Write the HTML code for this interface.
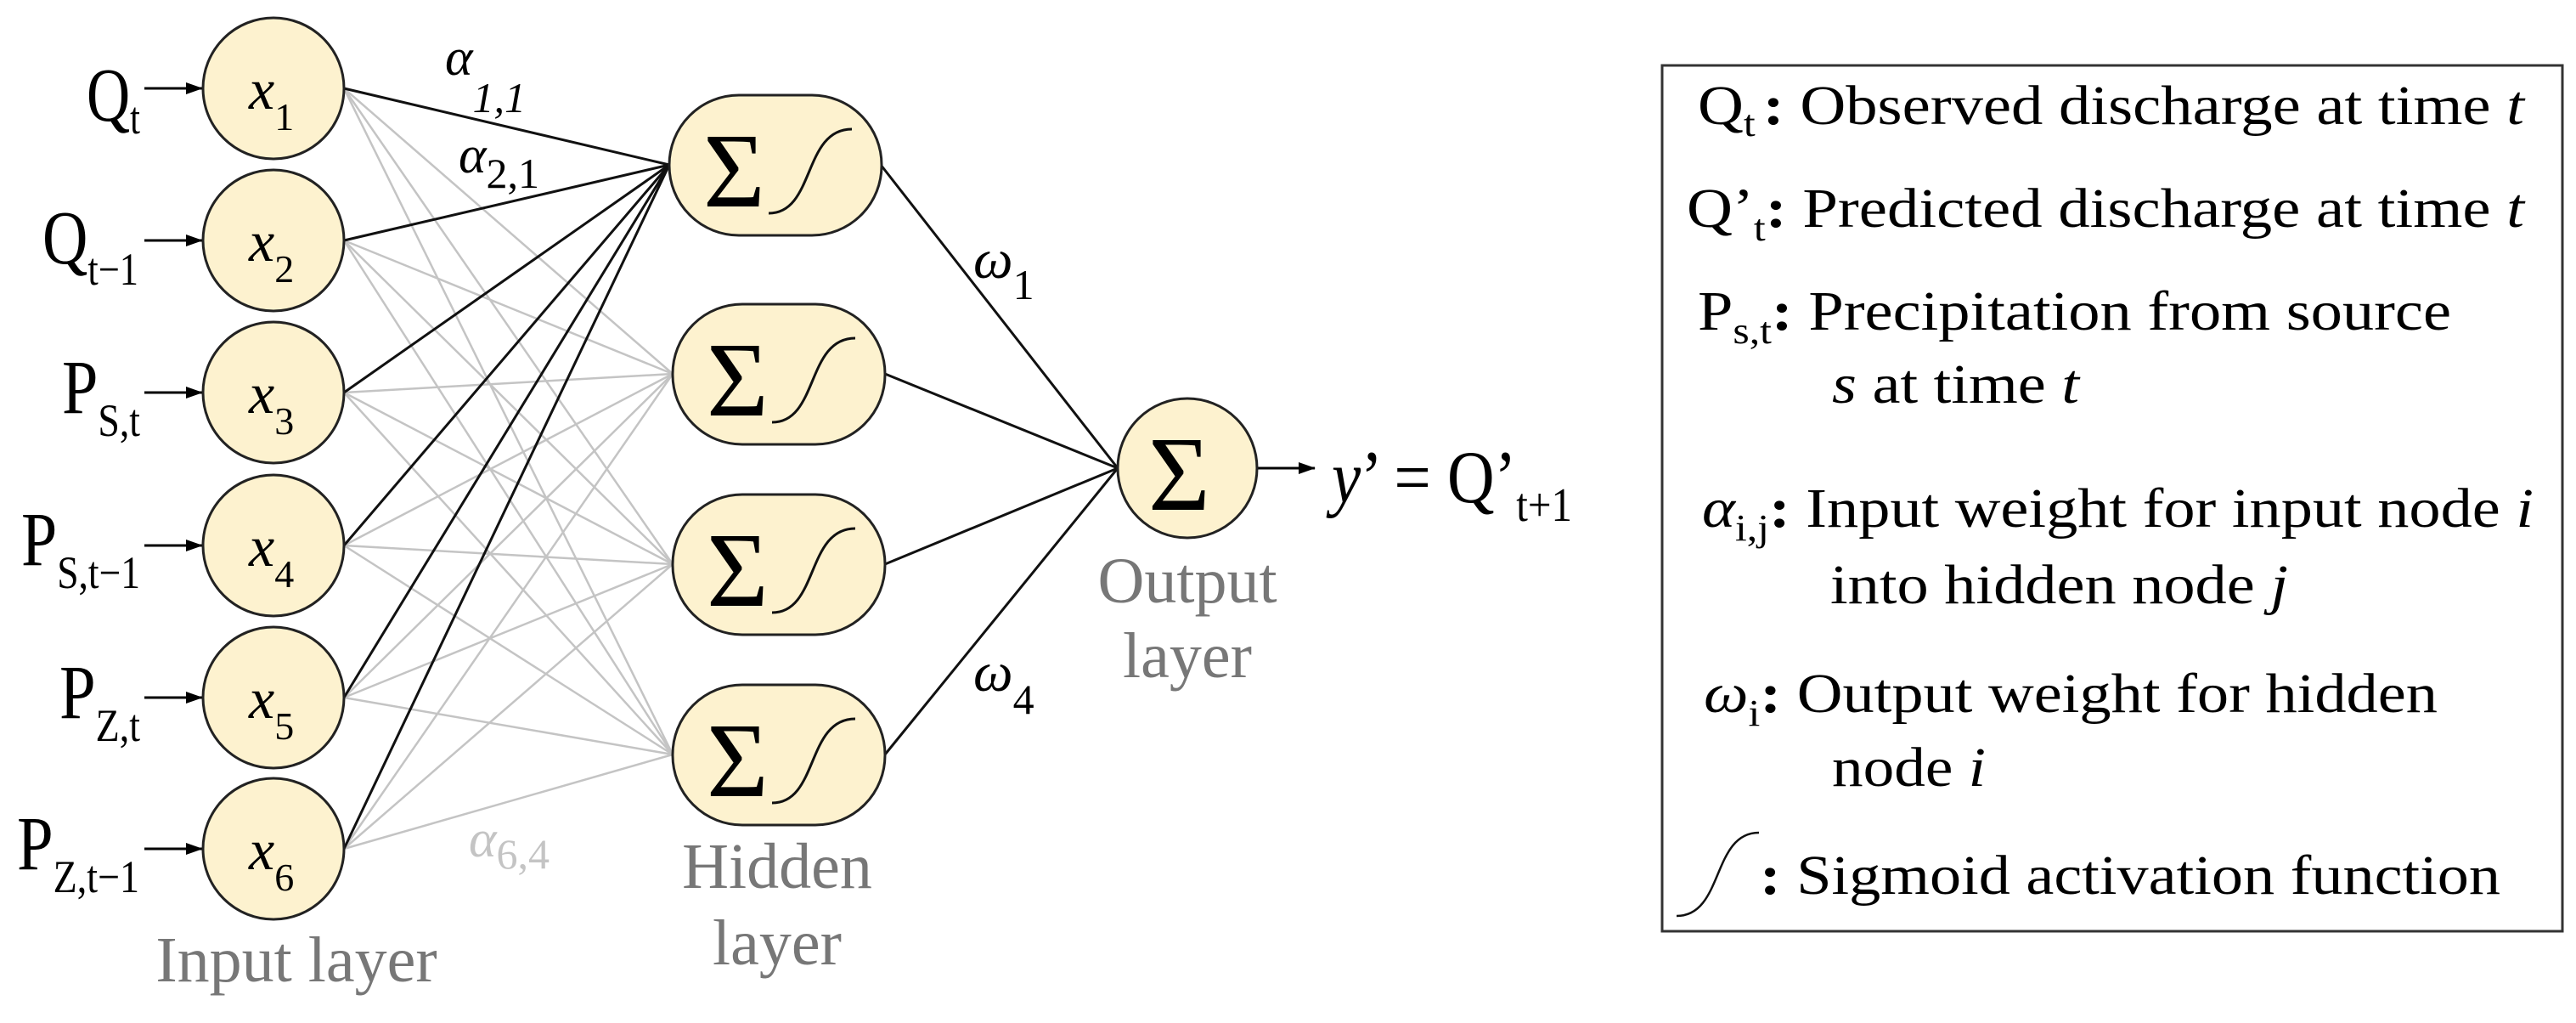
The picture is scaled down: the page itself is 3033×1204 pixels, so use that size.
<!DOCTYPE html>
<html><head><meta charset="utf-8"><style>
html,body{margin:0;padding:0;background:#fff;}
svg{display:block;}
text{font-family:"Liberation Serif","DejaVu Serif",serif;}
</style></head><body>
<svg width="3033" height="1204" viewBox="0 0 3033 1204" xmlns="http://www.w3.org/2000/svg">
<defs>
<marker id="ah2" markerWidth="20" markerHeight="14" refX="19" refY="7" orient="auto" markerUnits="userSpaceOnUse" viewBox="0 0 20 14">
<path d="M0,0 L20,7 L0,14 z" fill="#000"/></marker>
</defs>

<g stroke="#c4c4c4" stroke-width="2.5">
<line x1="405" y1="104" x2="792" y2="440"/><line x1="405" y1="104" x2="792" y2="664"/><line x1="405" y1="104" x2="792" y2="888"/>
<line x1="405" y1="283" x2="792" y2="440"/><line x1="405" y1="283" x2="792" y2="664"/><line x1="405" y1="283" x2="792" y2="888"/>
<line x1="405" y1="462" x2="792" y2="440"/><line x1="405" y1="462" x2="792" y2="664"/><line x1="405" y1="462" x2="792" y2="888"/>
<line x1="405" y1="642" x2="792" y2="440"/><line x1="405" y1="642" x2="792" y2="664"/><line x1="405" y1="642" x2="792" y2="888"/>
<line x1="405" y1="821" x2="792" y2="440"/><line x1="405" y1="821" x2="792" y2="664"/><line x1="405" y1="821" x2="792" y2="888"/>
<line x1="405" y1="999" x2="792" y2="440"/><line x1="405" y1="999" x2="792" y2="664"/><line x1="405" y1="999" x2="792" y2="888"/>
</g>
<g stroke="#111" stroke-width="3">
<line x1="405" y1="104" x2="788" y2="194"/><line x1="405" y1="283" x2="788" y2="194"/>
<line x1="405" y1="462" x2="788" y2="194"/><line x1="405" y1="642" x2="788" y2="194"/>
<line x1="405" y1="821" x2="788" y2="194"/><line x1="405" y1="999" x2="788" y2="194"/>
<line x1="1037" y1="194" x2="1316" y2="551"/><line x1="1042" y1="440" x2="1316" y2="551"/>
<line x1="1042" y1="664" x2="1316" y2="551"/><line x1="1042" y1="888" x2="1316" y2="551"/>
</g>

<g stroke="#000" stroke-width="3" marker-end="url(#ah2)">
<line x1="170" y1="104" x2="238" y2="104"/><line x1="170" y1="283" x2="238" y2="283"/>
<line x1="170" y1="462" x2="238" y2="462"/><line x1="170" y1="642" x2="238" y2="642"/>
<line x1="170" y1="821" x2="238" y2="821"/><line x1="170" y1="999" x2="238" y2="999"/>
<line x1="1481" y1="551" x2="1548" y2="551"/>
</g>

<g fill="#fdf2cf" stroke="#222" stroke-width="3">
<ellipse cx="322" cy="104" rx="83" ry="83"/><ellipse cx="322" cy="283" rx="83" ry="83"/>
<ellipse cx="322" cy="462" rx="83" ry="83"/><ellipse cx="322" cy="642" rx="83" ry="83"/>
<ellipse cx="322" cy="821" rx="83" ry="83"/><ellipse cx="322" cy="999" rx="83" ry="83"/>
<rect x="788" y="112" width="250" height="165" rx="82" ry="82"/>
<rect x="792" y="358" width="250" height="165" rx="82" ry="82"/>
<rect x="792" y="582" width="250" height="165" rx="82" ry="82"/>
<rect x="792" y="806" width="250" height="165" rx="82" ry="82"/>
<ellipse cx="1398" cy="551" rx="82" ry="82"/>
</g>

<g font-size="68" font-style="italic">
<text x="293" y="128">x<tspan font-style="normal" font-size="46" dy="25">1</tspan></text>
<text x="293" y="307">x<tspan font-style="normal" font-size="46" dy="25">2</tspan></text>
<text x="293" y="486">x<tspan font-style="normal" font-size="46" dy="25">3</tspan></text>
<text x="293" y="666">x<tspan font-style="normal" font-size="46" dy="25">4</tspan></text>
<text x="293" y="845">x<tspan font-style="normal" font-size="46" dy="25">5</tspan></text>
<text x="293" y="1023">x<tspan font-style="normal" font-size="46" dy="25">6</tspan></text>
</g>

<g font-size="125">
<text x="828" y="243">Σ</text><text x="832" y="489">Σ</text><text x="832" y="713">Σ</text><text x="832" y="937">Σ</text>
<text x="1352" y="600">Σ</text>
</g>
<g fill="none" stroke="#111" stroke-width="3">
<path d="M905,251 C960,251 945,152 1003,152"/>
<path d="M909,497 C964,497 949,398 1007,398"/>
<path d="M909,721 C964,721 949,622 1007,622"/>
<path d="M909,945 C964,945 949,846 1007,846"/>
</g>

<g font-size="90">
<text x="102" y="142" textLength="63" lengthAdjust="spacingAndGlyphs">Q<tspan font-size="54" dy="15">t</tspan></text>
<text x="50" y="310" textLength="113" lengthAdjust="spacingAndGlyphs">Q<tspan font-size="54" dy="25">t−1</tspan></text>
<text x="73" y="486" textLength="92" lengthAdjust="spacingAndGlyphs">P<tspan font-size="54" dy="27">S,t</tspan></text>
<text x="25" y="665" textLength="140" lengthAdjust="spacingAndGlyphs">P<tspan font-size="54" dy="27">S,t−1</tspan></text>
<text x="70" y="845" textLength="95" lengthAdjust="spacingAndGlyphs">P<tspan font-size="54" dy="27">Z,t</tspan></text>
<text x="20" y="1023" textLength="144" lengthAdjust="spacingAndGlyphs">P<tspan font-size="54" dy="27">Z,t−1</tspan></text>
</g>

<text x="524" y="88" font-size="62" font-style="italic">α<tspan font-size="50" dy="44">1,1</tspan></text>
<text x="540" y="203" font-size="62" font-style="italic">α<tspan font-style="normal" font-size="50" dy="18">2,1</tspan></text>
<text x="552" y="1008" font-size="62" font-style="italic" fill="#c4c4c4">α<tspan font-style="normal" font-size="50" dy="14">6,4</tspan></text>
<text x="1146" y="327" font-size="66" font-style="italic">ω<tspan font-style="normal" font-size="50" dy="25">1</tspan></text>
<text x="1146" y="813" font-size="66" font-style="italic">ω<tspan font-style="normal" font-size="50" dy="27">4</tspan></text>

<text x="1568" y="591" font-size="88" textLength="283" lengthAdjust="spacingAndGlyphs"><tspan font-style="italic">y</tspan>’ = Q’<tspan font-size="56" dy="22">t+1</tspan></text>

<g font-size="76" fill="#777" text-anchor="middle">
<text x="349" y="1155">Input layer</text>
<text x="915" y="1045">Hidden</text><text x="915" y="1135">layer</text>
<text x="1398" y="709">Output</text><text x="1398" y="797">layer</text>
</g>

<rect x="1957" y="77" width="1060" height="1019" fill="none" stroke="#333" stroke-width="3"/>
<g font-size="66">
<text x="1999" y="146" textLength="973" lengthAdjust="spacingAndGlyphs">Q<tspan font-size="44" dy="14">t</tspan><tspan dy="-14" dx="8" font-weight="bold">:</tspan> Observed discharge at time <tspan font-style="italic">t</tspan></text>
<text x="1986" y="267" textLength="986" lengthAdjust="spacingAndGlyphs">Q’<tspan font-size="44" dy="16">t</tspan><tspan dy="-16" font-weight="bold">:</tspan> Predicted discharge at time <tspan font-style="italic">t</tspan></text>
<text x="1999" y="388" textLength="887" lengthAdjust="spacingAndGlyphs">P<tspan font-size="44" dy="16">s,t</tspan><tspan dy="-16" font-weight="bold">:</tspan> Precipitation from source</text>
<text x="2157" y="474" textLength="291" lengthAdjust="spacingAndGlyphs"><tspan font-style="italic">s</tspan> at time <tspan font-style="italic">t</tspan></text>
<text x="2004" y="620" textLength="979" lengthAdjust="spacingAndGlyphs"><tspan font-style="italic">α</tspan><tspan font-size="44" dy="16">i,j</tspan><tspan dy="-16" font-weight="bold">:</tspan> Input weight for input node <tspan font-style="italic">i</tspan></text>
<text x="2155" y="710" textLength="539" lengthAdjust="spacingAndGlyphs">into hidden node <tspan font-style="italic">j</tspan></text>
<text x="2006" y="838" textLength="864" lengthAdjust="spacingAndGlyphs"><tspan font-style="italic">ω</tspan><tspan font-size="44" dy="16">i</tspan><tspan dy="-16" font-weight="bold">:</tspan> Output weight for hidden</text>
<text x="2157" y="925" textLength="181" lengthAdjust="spacingAndGlyphs">node <tspan font-style="italic">i</tspan></text>
<text x="2072" y="1052" textLength="872" lengthAdjust="spacingAndGlyphs"><tspan font-weight="bold">:</tspan> Sigmoid activation function</text>
</g>
<path d="M1974,1078 C2030,1078 2015,980 2071,980" fill="none" stroke="#111" stroke-width="2.5"/>
</svg>
</body></html>
